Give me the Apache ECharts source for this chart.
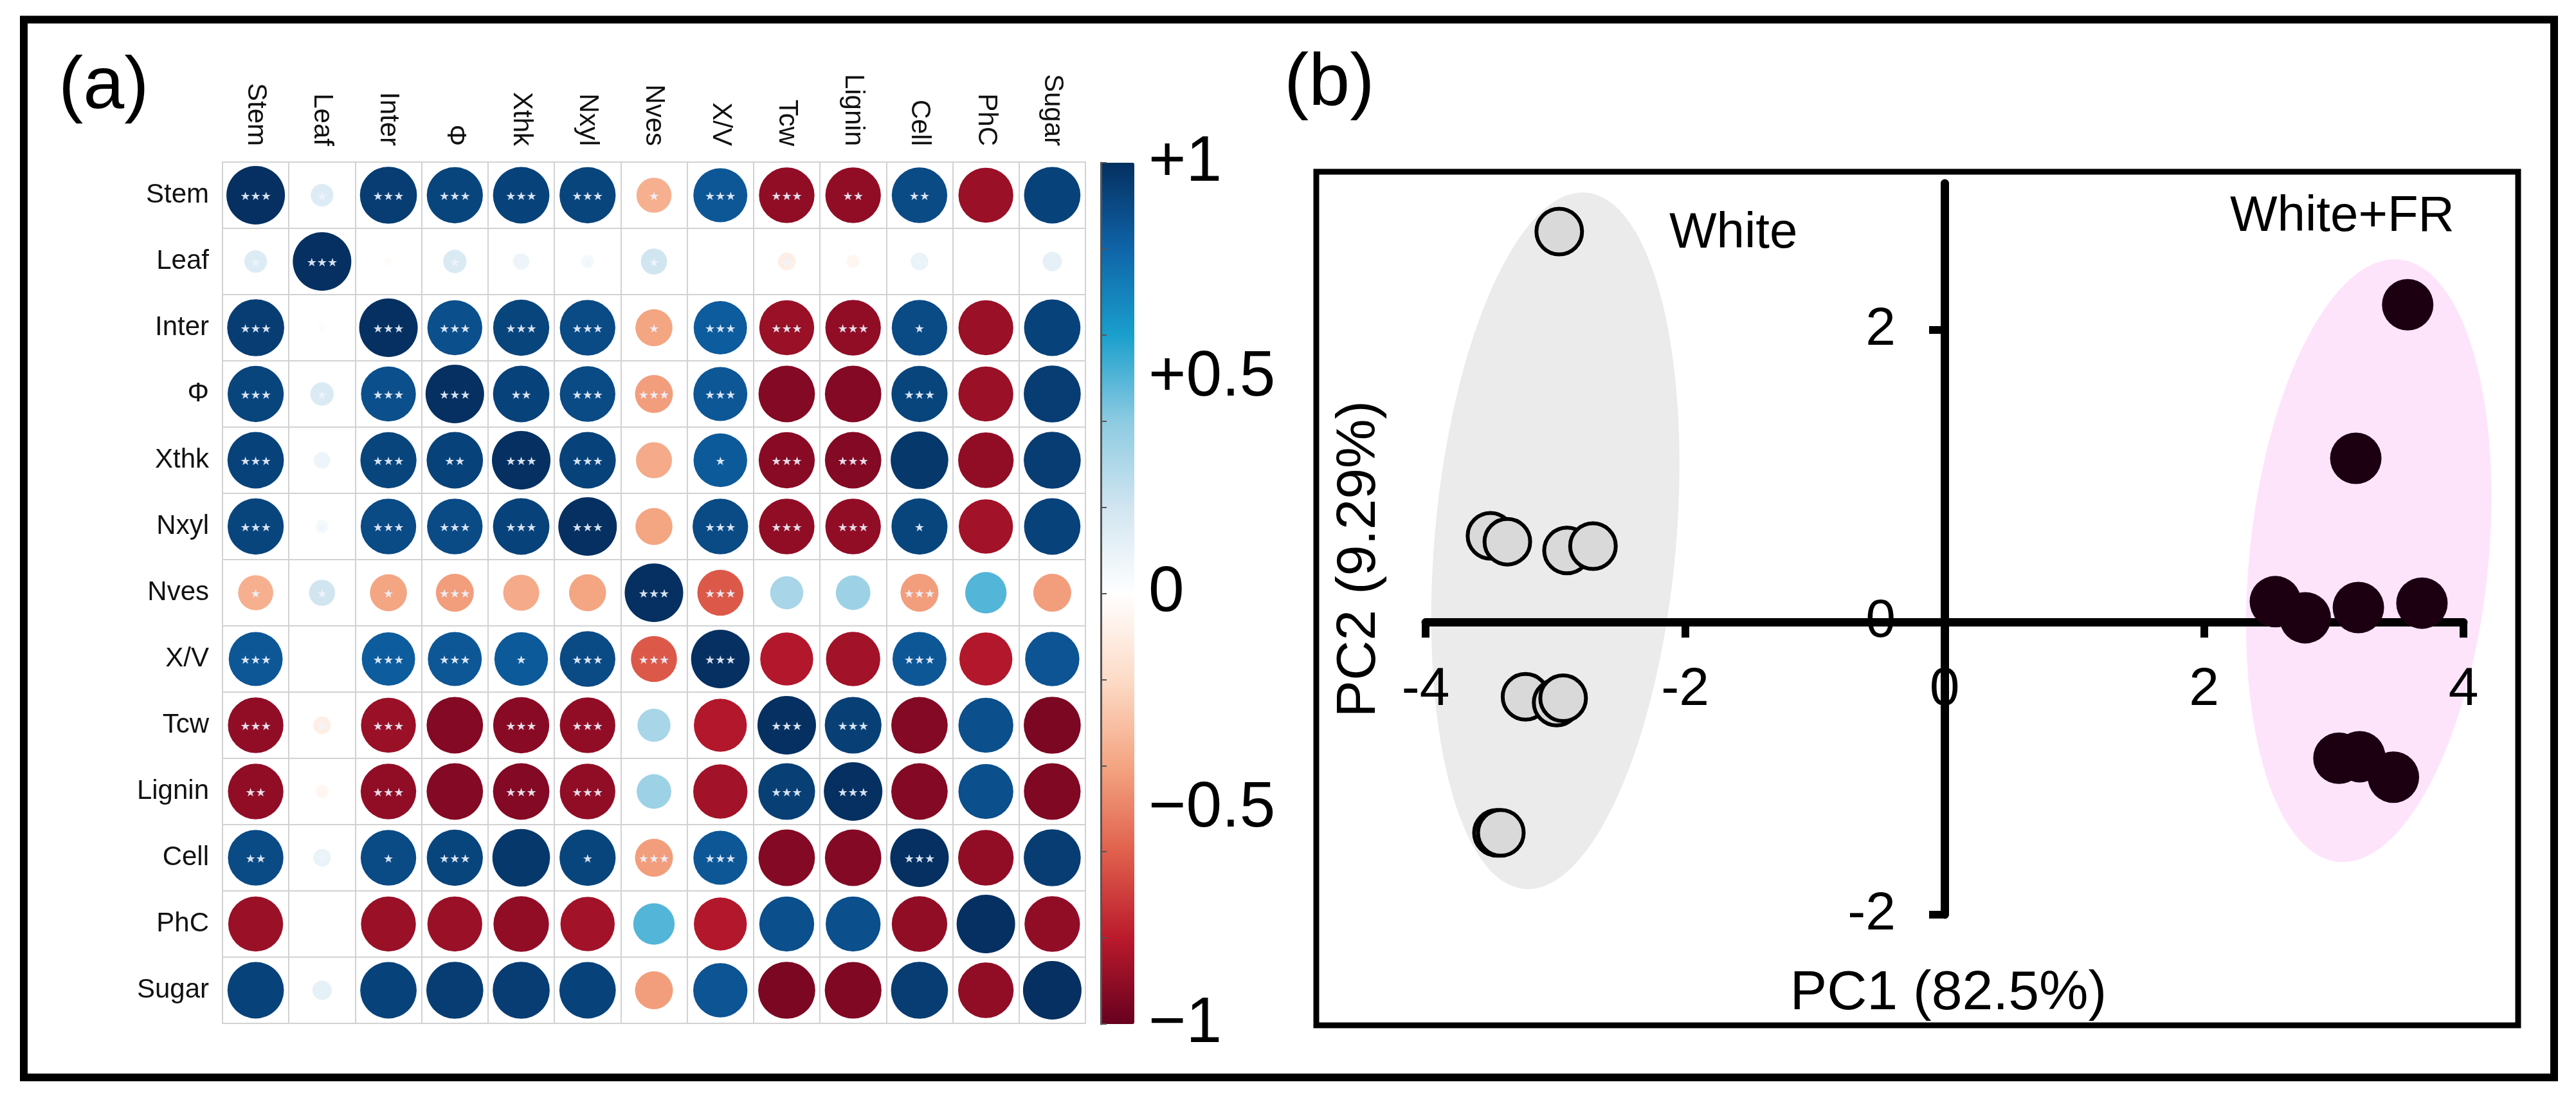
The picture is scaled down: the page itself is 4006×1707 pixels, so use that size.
<!DOCTYPE html>
<html>
<head>
<meta charset="utf-8">
<script src="https://cdn.jsdelivr.net/npm/echarts@6/dist/echarts.min.js"></script>
<style>html,body{margin:0;padding:0;background:#fff;}#c{width:4006px;height:1707px;}</style>
</head>
<body>
<div id="c"></div>
<script>
// ---------- Panel (a): correlation matrix ----------
const categories = ['Stem','Leaf','Inter','Φ','Xthk','Nxyl','Nves','X/V','Tcw','Lignin','Cell','PhC','Sugar'];
const corrRows = [
  [ 1.00, 0.15, 0.95, 0.92, 0.93, 0.92,-0.36, 0.85,-0.90,-0.90, 0.90,-0.88, 0.93],
  [ 0.15, 1.00,-0.02, 0.16, 0.08, 0.05, 0.20, 0.00,-0.09,-0.05, 0.09, 0.01, 0.11],
  [ 0.95,-0.02, 1.00, 0.88, 0.92, 0.90,-0.40, 0.83,-0.88,-0.90, 0.90,-0.88, 0.93],
  [ 0.92, 0.16, 0.88, 1.00, 0.93, 0.90,-0.42, 0.85,-0.93,-0.93, 0.92,-0.88, 0.95],
  [ 0.93, 0.08, 0.92, 0.93, 1.00, 0.93,-0.38, 0.84,-0.92,-0.93, 0.97,-0.90, 0.95],
  [ 0.92, 0.05, 0.90, 0.90, 0.93, 1.00,-0.40, 0.90,-0.90,-0.90, 0.92,-0.86, 0.93],
  [-0.36, 0.20,-0.40,-0.42,-0.38,-0.40, 1.00,-0.62, 0.32, 0.35,-0.42, 0.50,-0.42],
  [ 0.85, 0.00, 0.83, 0.85, 0.84, 0.90,-0.62, 1.00,-0.82,-0.86, 0.85,-0.82, 0.86],
  [-0.90,-0.09,-0.88,-0.93,-0.92,-0.90, 0.32,-0.82, 1.00, 0.94,-0.93, 0.88,-0.95],
  [-0.90,-0.05,-0.90,-0.93,-0.93,-0.90, 0.35,-0.86, 0.94, 1.00,-0.93, 0.88,-0.94],
  [ 0.90, 0.09, 0.90, 0.92, 0.97, 0.92,-0.42, 0.85,-0.93,-0.93, 1.00,-0.90, 0.95],
  [-0.88, 0.01,-0.88,-0.88,-0.90,-0.86, 0.50,-0.82, 0.88, 0.88,-0.90, 1.00,-0.90],
  [ 0.93, 0.11, 0.93, 0.95, 0.95, 0.93,-0.42, 0.86,-0.95,-0.94, 0.95,-0.90, 1.00]
];
const starRows = [
  ['***','*','***','***','***','***','*','***','***','**','**','',''],
  ['*','***','','*','*','*','*','','*','','*','',''],
  ['***','','***','***','***','***','*','***','***','***','*','',''],
  ['***','*','***','***','**','***','***','***','','','***','',''],
  ['***','*','***','**','***','***','','*','***','***','','',''],
  ['***','*','***','***','***','***','','***','***','***','*','',''],
  ['*','*','*','***','','','***','***','','','***','',''],
  ['***','','***','***','*','***','***','***','','','***','',''],
  ['***','*','***','','***','***','','','***','***','','',''],
  ['**','','***','','***','***','','','***','***','','',''],
  ['**','*','*','***','','*','***','***','','','***','',''],
  ['','','','','','','','','','','','',''],
  ['','','','','','','','','','','','','']
];
const colorbarColors = ['#67001f','#bb1a2c','#e0604c','#f4a582','#fddbc7','#ffffff','#d1e5f0','#8ccbe2','#1a9fcd','#0f64a8','#053061'];
const colorbarLabels = [-1, -0.5, 0, 0.5, 1];

// ---------- Panel (b): PCA ----------
const whitePoints = [
  [-2.97, 2.67], [-3.50, 0.59], [-3.37, 0.55], [-2.91, 0.49], [-2.71, 0.52],
  [-3.23, -0.51], [-2.99, -0.55], [-2.94, -0.52], [-3.45, -1.44], [-3.42, -1.44]
];
const whiteFRPoints = [
  [3.57, 2.17], [3.17, 1.12], [2.55, 0.14], [2.78, 0.03], [3.19, 0.10],
  [3.68, 0.13], [3.04, -0.93], [3.20, -0.92], [3.46, -1.06]
];
// ellipse: [centerX, centerY, semiAxisX, semiAxisY, tiltDeg]
const whiteEllipse = [[-3.00, 0.556, 0.93, 2.39, 5.1]];
const whiteFREllipse = [[3.27, 0.42, 0.92, 2.07, 5.85]];
const pcXTicks = [-4, -2, 0, 2, 4];
const pcYTicks = [-2, 0, 2];

const FONT = 'Liberation Sans, Arial, sans-serif';

const corrData = [];
for (let i = 0; i < categories.length; i++) {
  for (let j = 0; j < categories.length; j++) {
    corrData.push([j, i, corrRows[i][j]]);
  }
}
function starGlyphs(s) { return s.replace(/\*/g, '★'); }

function ellipseRender(color) {
  return function (params, api) {
    const c = api.coord([api.value(0), api.value(1)]);
    const s = api.size([api.value(2), api.value(3)]);
    return {
      type: 'circle',
      shape: { cx: 0, cy: 0, r: s[1] },
      x: c[0], y: c[1],
      scaleX: s[0] / s[1], scaleY: 1,
      rotation: -api.value(4) * Math.PI / 180,
      style: { fill: color }
    };
  };
}

const chart = echarts.init(document.getElementById('c'), null, { width: 4006, height: 1707, renderer: 'canvas' });

const cbFmt = v => {
  if (v === 1) return '+1';
  if (v === 0.5) return '+0.5';
  if (v === 0) return '0';
  if (v === -0.5) return '\u22120.5';
  if (v === -1) return '\u22121';
  return '';
};

// panel (b) geometry: x in [-4,4], y in [-2,3]
const PB = { left: 2217, top: 285, width: 1614, height: 1137 };
const xZeroOffset = -PB.width * 4 / 8;      // move y axis to x = 0
const yZeroOffset = -PB.height * 2 / 5;     // move x axis to y = 0

chart.setOption({
  animation: false,
  backgroundColor: '#ffffff',
  grid: [
    { left: 346, top: 252, width: 1342, height: 1339, show: true, borderColor: '#d2d2d2', borderWidth: 2, backgroundColor: 'transparent', outerBoundsMode: 'none', containLabel: false },
    { left: PB.left, top: PB.top, width: PB.width, height: PB.height, show: false, outerBoundsMode: 'none', containLabel: false },
    { left: 1712, top: 253, width: 52, height: 1339, show: false, outerBoundsMode: 'none', containLabel: false }
  ],
  xAxis: [
    { type: 'category', gridIndex: 0, data: categories, position: 'top',
      axisLine: { show: false }, axisTick: { show: false },
      axisLabel: { rotate: 90, align: 'right', verticalAlign: 'middle', margin: 25, fontSize: 42, fontFamily: FONT, color: '#111' },
      splitLine: { show: true, interval: 0, lineStyle: { color: '#d2d2d2', width: 2 } } },
    { type: 'value', gridIndex: 1, min: -4, max: 4, z: 1.4, position: 'bottom', offset: yZeroOffset,
      axisLine: { show: true, onZero: false, lineStyle: { color: '#000', width: 13 } },
      axisTick: { show: true, length: 24, customValues: pcXTicks, lineStyle: { color: '#000', width: 12 } },
      axisLabel: { show: true, customValues: pcXTicks, margin: 64, fontSize: 84, fontFamily: FONT, color: '#000' },
      splitLine: { show: false } },
    { type: 'value', gridIndex: 2, min: 0, max: 1, show: false }
  ],
  yAxis: [
    { type: 'category', gridIndex: 0, data: categories, inverse: true,
      axisLine: { show: false }, axisTick: { show: false },
      axisLabel: { margin: 21, fontSize: 42, fontFamily: FONT, color: '#111' },
      splitLine: { show: true, interval: 0, lineStyle: { color: '#d2d2d2', width: 2 } } },
    { type: 'value', gridIndex: 1, min: -2, max: 3, z: 1.2, position: 'left', offset: xZeroOffset,
      axisLine: { show: true, onZero: false, lineStyle: { color: '#000', width: 13 } },
      axisTick: { show: true, length: 24, customValues: pcYTicks, lineStyle: { color: '#000', width: 12 } },
      axisLabel: { show: true, customValues: pcYTicks, margin: 76, fontSize: 84, fontFamily: FONT, color: '#000' },
      splitLine: { show: false } },
    { type: 'value', gridIndex: 2, min: -1, max: 1, interval: 0.2, position: 'right', z: 6,
      axisLine: { show: true, lineStyle: { color: '#555', width: 3 } },
      axisTick: { show: true, length: 9, lineStyle: { color: '#555', width: 2 } },
      axisLabel: { customValues: colorbarLabels, formatter: cbFmt, margin: 22, fontSize: 100, fontFamily: FONT, color: '#000' },
      splitLine: { show: false } }
  ],
  visualMap: {
    type: 'continuous', min: -1, max: 1, dimension: 2, seriesIndex: 0,
    calculable: false, hoverLink: false, left: 1712, top: 253, itemWidth: 52, itemHeight: 1339,
    padding: 0, text: null, inRange: { color: colorbarColors }
  },
  series: [
    { type: 'scatter', xAxisIndex: 0, yAxisIndex: 0, data: corrData, z: 3,
      symbol: 'circle',
      symbolSize: v => Math.sqrt(Math.abs(v[2])) * 91,
      itemStyle: { opacity: 1 },
      emphasis: { disabled: true },
      label: { show: true, position: 'inside', offset: [0, 3],
        formatter: p => starGlyphs(starRows[p.value[1]][p.value[0]]),
        fontSize: 18, fontFamily: 'DejaVu Sans', color: 'rgba(238,244,255,0.9)' } },
    { type: 'custom', xAxisIndex: 1, yAxisIndex: 1, data: whiteEllipse, z: 1, clip: false,
      renderItem: ellipseRender('#ebebeb'), silent: true },
    { type: 'custom', xAxisIndex: 1, yAxisIndex: 1, data: whiteFREllipse, z: 1, clip: false,
      renderItem: ellipseRender('#fde4fb'), silent: true },
    { type: 'scatter', xAxisIndex: 1, yAxisIndex: 1, data: whitePoints, z: 3,
      symbol: 'circle', symbolSize: 71, emphasis: { disabled: true },
      itemStyle: { color: '#d9d9d9', borderColor: '#000', borderWidth: 6, opacity: 1 } },
    { type: 'scatter', xAxisIndex: 1, yAxisIndex: 1, data: whiteFRPoints, z: 3,
      symbol: 'circle', symbolSize: 80, emphasis: { disabled: true },
      itemStyle: { color: '#1c0012', opacity: 1 } }
  ],
  graphic: [
    { type: 'rect', shape: { x: 37, y: 30.5, width: 3935, height: 1644.5 }, style: { fill: 'none', stroke: '#000', lineWidth: 12 }, z: 10 },
    { type: 'rect', shape: { x: 2047, y: 267, width: 1869, height: 1327 }, style: { fill: 'none', stroke: '#000', lineWidth: 9 }, z: 10 },
    { type: 'text', x: 91, y: 136, style: { text: '(a)', font: '115px ' + FONT, fill: '#000', verticalAlign: 'middle' }, z: 10 },
    { type: 'text', x: 1997, y: 131, style: { text: '(b)', font: '115px ' + FONT, fill: '#000', verticalAlign: 'middle' }, z: 10 },
    { type: 'text', x: 2596, y: 363, style: { text: 'White', font: '78px ' + FONT, fill: '#000', verticalAlign: 'middle' }, z: 10 },
    { type: 'text', x: 3468, y: 337, style: { text: 'White+FR', font: '78px ' + FONT, fill: '#000', verticalAlign: 'middle' }, z: 10 },
    { type: 'text', x: 3030, y: 1545, style: { text: 'PC1 (82.5%)', font: '86px ' + FONT, fill: '#000', align: 'center', verticalAlign: 'middle' }, z: 10 },
    { type: 'text', x: 2114, y: 869, rotation: Math.PI / 2, style: { text: 'PC2 (9.29%)', font: '86px ' + FONT, fill: '#000', align: 'center', verticalAlign: 'middle' }, z: 10 }
  ]
});
</script>
</body>
</html>
